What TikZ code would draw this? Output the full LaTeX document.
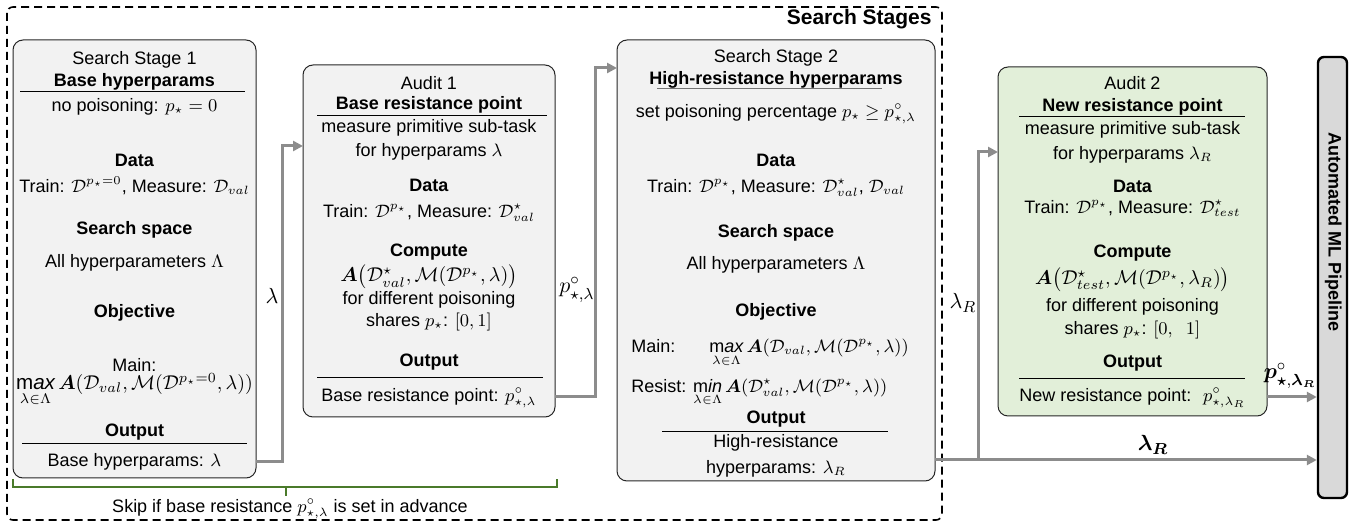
\documentclass[tikz,border=0pt]{standalone}
\usepackage{amsmath,bm}
\usepackage{fontspec}
\setmainfont{Liberation Sans}
\usetikzlibrary{arrows.meta}

\definecolor{boxgray}{HTML}{F2F2F2}
\definecolor{auditgreen}{HTML}{E2EFD9}
\definecolor{pipegray}{HTML}{D9D9D9}
\definecolor{flowgray}{HTML}{8C8C8C}
\definecolor{bracegreen}{HTML}{4A7A2A}

\tikzset{
	stagebox/.style={draw=black!85, line width=0.5pt, rounded corners=5pt, fill=boxgray, inner sep=0pt, outer sep=0pt},
	txt/.style={inner sep=0pt, text height=6.5pt, text depth=2pt, font=\fontsize{9}{11}\selectfont},
	hd/.style={inner sep=0pt, text height=6.5pt, text depth=2pt, font=\fontsize{9}{11}\selectfont\bfseries},
	frm/.style={inner sep=0pt, font=\fontsize{10.3}{12}\selectfont},
	lbl/.style={inner sep=0pt, font=\fontsize{11}{13}\selectfont},
	rule/.style={line width=0.5pt, black},
	flow/.style={draw=flowgray, line width=1.5pt, -{Triangle[length=5pt,width=5pt]}}
}

\newcommand{\mxop}{\mathop{\mathrm{m}\mathit{ax}}\limits_{\lambda\in\Lambda}}
\newcommand{\mnop}{\mathop{\mathrm{m}\mathit{in}}\limits_{\lambda\in\Lambda}}

\begin{document}
\begin{tikzpicture}[x=0.5pt, y=-0.5pt]
		%%%%% START %%%%%
		\useasboundingbox (0,0) rectangle (1351,523);
		
		% outer frame
		\draw[line width=0.8pt, dash pattern=on 4pt off 2.5pt, rounded corners=3pt] (7,7) rectangle (942,520);
		\node[hd, font=\fontsize{10.5}{12}\selectfont\bfseries, anchor=east] (frame) at (932,20) {Search Stages};
		
		% search stage 1
		\node[stagebox, minimum width=121.5pt, minimum height=219pt] (b1) at (134.5,259) {};
		\node[txt] (s1a) at (134.5,60) {Search Stage 1};
		\node[hd] (s1b) at (134.5,82) {Base hyperparams};
		\draw[rule] (20,92) -- (245,92);
		\node[txt] (s1c) at (134.5,107) {no poisoning: $p_\star = 0$};
		\node[hd] (s1d) at (134.5,162) {Data};
		\node[txt] (s1e) at (134.5,188) {Train: $\mathcal{D}^{p_\star=0}$, Measure: $\mathcal{D}_{val}$};
		\node[hd] (s1f) at (134.5,230) {Search space};
		\node[txt] (s1g) at (134.5,263) {All hyperparameters $\Lambda$};
		\node[hd] (s1h) at (134.5,313) {Objective};
		\node[txt] (s1i) at (134.5,367) {Main:};
		\node[frm] (s1j) at (134.5,390) {$\mxop \bm{A}(\mathcal{D}_{val}, \mathcal{M}(\mathcal{D}^{p_\star=0}, \lambda))$};
		\node[hd] (s1k) at (134.5,432) {Output};
		\draw[rule] (22,444) -- (247,444);
		\node[txt] (s1o) at (134.5,462) {Base hyperparams: $\lambda$};
		
		% audit 1
		\node[stagebox, minimum width=126pt, minimum height=176pt] (b2) at (429,241) {};
		\node[txt] (a1a) at (429,85) {Audit 1};
		\node[hd] (a1b) at (429,105) {Base resistance point};
		\draw[rule] (317,116) -- (547,116);
		\node[txt] (a1c) at (429,128) {measure primitive sub-task};
		\node[txt] (a1d) at (429,152) {for hyperparams $\lambda$};
		\node[hd] (a1e) at (429,187) {Data};
		\node[txt] (a1f) at (429,213) {Train: $\mathcal{D}^{p_\star}$, Measure: $\mathcal{D}^\star_{val}$};
		\node[hd] (a1g) at (429,252) {Compute};
		\node[frm] (a1h) at (429,277) {$\bm{A}\bigl(\mathcal{D}^\star_{val}, \mathcal{M}(\mathcal{D}^{p_\star}, \lambda)\bigr)$};
		\node[txt] (a1i) at (429,300) {for different poisoning};
		\node[txt] (a1j) at (429,322) {shares $p_\star$: $[0,1]$};
		\node[hd] (a1k) at (429,362) {Output};
		\draw[rule] (317,378) -- (543,378);
		\node[txt] (a1o) at (429,397) {Base resistance point: $p^\circ_{\star,\lambda}$};
		
		% search stage 2
		\node[stagebox, minimum width=159pt, minimum height=220.5pt] (b3) at (776,260.5) {};
		\node[txt] (s2a) at (776,58) {Search Stage 2};
		\node[hd] (s2b) at (776,80) {High-resistance hyperparams};
		\draw[rule, black!55] (657,89) -- (882,89);
		\node[txt] (s2c) at (776,113) {set poisoning percentage $p_\star \geq p^\circ_{\star,\lambda}$};
		\node[hd] (s2d) at (776,162) {Data};
		\node[txt] (s2e) at (776,188) {Train: $\mathcal{D}^{p_\star}$, Measure: $\mathcal{D}^\star_{val}$, $\mathcal{D}_{val}$};
		\node[hd] (s2f) at (776,233) {Search space};
		\node[txt] (s2g) at (776,265) {All hyperparameters $\Lambda$};
		\node[hd] (s2h) at (776,312) {Objective};
		\node[txt, anchor=west] (s2i) at (631,348) {Main:\hspace{17pt}$\mxop \bm{A}(\mathcal{D}_{val}, \mathcal{M}(\mathcal{D}^{p_\star}, \lambda))$};
		\node[txt, anchor=west] (s2j) at (631,388) {Resist: $\mnop \bm{A}(\mathcal{D}^\star_{val}, \mathcal{M}(\mathcal{D}^{p_\star}, \lambda))$};
		\node[hd] (s2k) at (776,419) {Output};
		\draw[rule] (662,432) -- (888,432);
		\node[txt] (s2l) at (776,443) {High-resistance};
		\node[txt] (s2o) at (776,469) {hyperparams: $\lambda_R$};
		
		% audit 2
		\node[stagebox, fill=auditgreen, minimum width=134.5pt, minimum height=174.5pt] (b4) at (1132.5,241.5) {};
		\node[txt] (a2a) at (1132.5,85) {Audit 2};
		\node[hd] (a2b) at (1132.5,107) {New resistance point};
		\draw[rule] (1019,117) -- (1245,117);
		\node[txt] (a2c) at (1132.5,130) {measure primitive sub-task};
		\node[txt] (a2d) at (1132.5,155) {for hyperparams $\lambda_R$};
		\node[hd] (a2e) at (1132.5,188) {Data};
		\node[txt] (a2f) at (1132.5,209) {Train: $\mathcal{D}^{p_\star}$, Measure: $\mathcal{D}^\star_{test}$};
		\node[hd] (a2g) at (1132.5,253) {Compute};
		\node[frm] (a2h) at (1132.5,280) {$\bm{A}\bigl(\mathcal{D}^\star_{test}, \mathcal{M}(\mathcal{D}^{p_\star}, \lambda_R)\bigr)$};
		\node[txt] (a2i) at (1132.5,307) {for different poisoning};
		\node[txt] (a2j) at (1132.5,330) {shares $p_\star$: $[0,\ \ 1]$};
		\node[hd] (a2k) at (1132.5,363) {Output};
		\draw[rule] (1019,379) -- (1245,379);
		\node[txt] (a2o) at (1132.5,397) {New resistance point: \ $p^\circ_{\star,\lambda_R}$};
		
		% pipeline
		\node[draw=black, line width=1.2pt, rounded corners=3pt, fill=pipegray, minimum width=14.5pt, minimum height=220.5pt, inner sep=0pt] (pipe) at (1332.5,277.5) {};
		\node[hd, rotate=-90] (pipet) at (1333,232) {Automated ML Pipeline};
		
		% connectors
		\coordinate (k1) at (282,146);
		\coordinate (k2) at (595,68);
		\coordinate (k3) at (978,460);
		\coordinate (k4) at (978,152);
		\draw[flow] (b1.east |- s1o) -| (k1) -- (k1 -| b2.west);
		\draw[flow] (b2.east |- a1o) -| (k2) -- (k2 -| b3.west);
		\draw[flow] (b3.east |- k3) -- (k3 -| pipe.west);
		\draw[flow] (k3) -- (k4) -- (k4 -| b4.west);
		\draw[flow] (b4.east |- a2o) -- (a2o -| pipe.west);
		
		\node[lbl] (l1) at (272,296) {$\lambda$};
		\node[lbl] (l2) at (577,290) {$p^\circ_{\star,\lambda}$};
		\node[lbl] (l3) at (963,303) {$\lambda_R$};
		\node[lbl] (l4) at (1153,445) {$\bm{\lambda_R}$};
		\node[lbl] (l5) at (1290,376) {$\bm{p}^\circ_{\bm{\star},\bm{\lambda_R}}$};
		
		% skip bracket
		\draw[bracegreen, line width=1pt] (13,479) -- (13,487) -- (557,487) -- (557,479);
		\draw[bracegreen, line width=1pt] (286,487) -- (286,496);
		\node[txt] (skip) at (290,508) {Skip if base resistance $p^\circ_{\star,\lambda}$ is set in advance};
		
		%%%%% END %%%%%
\end{tikzpicture}
\end{document}
